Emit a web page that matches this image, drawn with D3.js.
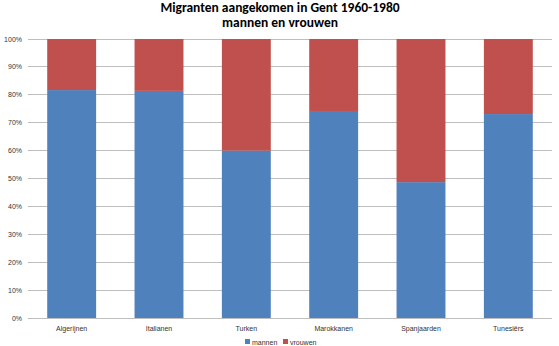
<!DOCTYPE html>
<html><head><meta charset="utf-8">
<script src="https://cdn.jsdelivr.net/npm/d3@7"></script>
<style>body{margin:0;background:#fff}svg{display:block}</style>
</head><body><svg id="c" width="559" height="346"></svg>
<script>
const categories = ["Algerijnen","Italianen","Turken","Marokkanen","Spanjaarden","Tunesiërs"];
const mannen = [81.7, 81.4, 60.0, 74.2, 48.7, 73.1];
const vrouwen = mannen.map(v => 100 - v);
const seriesNames = ["mannen","vrouwen"];
const colors = ["#4F81BD","#C0504D"];
const ticks = [0,10,20,30,40,50,60,70,80,90,100];
const titleLines = ["Migranten aangekomen in Gent 1960-1980","mannen en vrouwen"];

const svg = d3.select("#c");
const font = "'Liberation Sans', Arial, sans-serif";
const m = {l:28, r:7, t:39, b:28};
const W = 559, H = 346;
const x = d3.scaleBand().domain(categories).range([m.l, W - m.r]).paddingInner(0.44).paddingOuter(0.22);
const y = d3.scaleLinear().domain([0,100]).range([318, 39]);

// gridlines
svg.append("g").selectAll("line").data(ticks).join("line")
  .attr("x1", m.l).attr("x2", W - m.r)
  .attr("y1", d => y(d)).attr("y2", d => y(d))
  .attr("stroke", "#BEBEBE").attr("stroke-width", 1).attr("shape-rendering","crispEdges");

// y labels
svg.append("g").selectAll("text").data(ticks).join("text")
  .attr("x", 22).attr("y", d => y(d) + 2.5)
  .attr("text-anchor", "end").attr("font-family", font).attr("font-size", 7).attr("fill", "#333")
  .text(d => d + "%");

const stack = d3.stack().keys([0,1])(categories.map((c,i) => ({0: mannen[i], 1: vrouwen[i]})));
svg.append("g").selectAll("g").data(stack).join("g")
  .attr("fill", (d,i) => colors[i])
  .selectAll("rect").data(d => d).join("rect")
  .attr("x", (d,i) => x(categories[i]))
  .attr("width", x.bandwidth())
  .attr("y", d => y(d[1]))
  .attr("height", d => y(d[0]) - y(d[1]));

// x labels
svg.append("g").selectAll("text").data(categories).join("text")
  .attr("x", d => x(d) + x.bandwidth()/2).attr("y", 331)
  .attr("text-anchor", "middle").attr("font-family", font).attr("font-size", 7).attr("fill", "#333")
  .text(d => d);

// title
svg.append("g").selectAll("text").data(titleLines).join("text")
  .attr("x", 280).attr("y", (d,i) => 11.5 + i*15.5)
  .attr("text-anchor","middle").attr("font-family", "Carlito, 'Liberation Sans', Arial, sans-serif")
  .attr("font-weight","bold").attr("font-size", 13.5).attr("fill","#000")
  .text(d => d);

// legend
const lg = svg.append("g");
const lx = [245, 283];
seriesNames.forEach((n,i) => {
  lg.append("rect").attr("x", lx[i]).attr("y", 339).attr("width", 5).attr("height", 5).attr("fill", colors[i]);
  lg.append("text").attr("x", lx[i] + 7).attr("y", 344.5).attr("font-family", font).attr("font-size", 7).attr("fill","#333").text(n);
});
</script></body></html>
